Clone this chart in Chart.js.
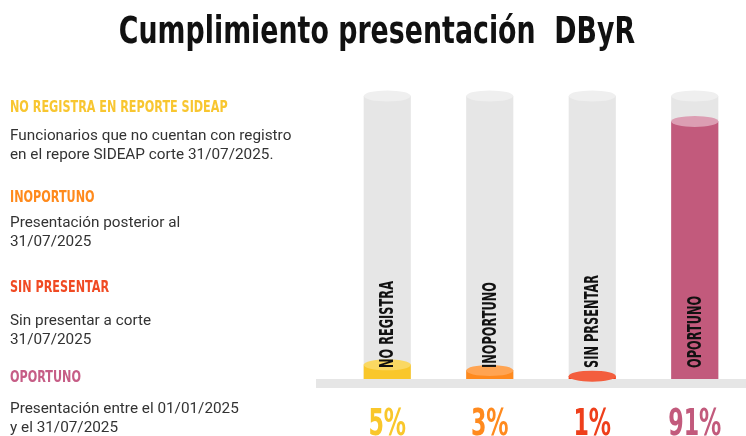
<!DOCTYPE html>
<html><head><meta charset="utf-8">
<script src="https://cdn.jsdelivr.net/npm/chart.js@4.4.1/dist/chart.umd.min.js"></script>
<style>
html,body{margin:0;padding:0;background:#fff;}
#wrap{position:relative;width:746px;height:436px;overflow:hidden;}
#c{position:absolute;left:0;top:0;}
#title{position:absolute;left:0;top:9px;width:754px;text-align:center;font-family:'DejaVu Sans',sans-serif;font-weight:bold;font-size:37px;line-height:44px;color:#111;white-space:pre;transform:scaleX(0.725);transform-origin:377px 0;}
.hd{position:absolute;left:10px;font-family:'DejaVu Sans',sans-serif;font-weight:bold;font-size:16px;line-height:20px;white-space:nowrap;transform:scaleX(0.70);transform-origin:0 0;}
.bd{position:absolute;left:10px;font-family:Roboto,sans-serif;font-size:15.3px;line-height:18.5px;color:#333;white-space:nowrap;}
</style></head>
<body><div id="wrap"><canvas id="c" width="746" height="436"></canvas><div id="title"></div></div>
<script>
const categories = ['NO REGISTRA', 'INOPORTUNO', 'SIN PRSENTAR', 'OPORTUNO'];
const percentages = [5, 3, 1, 91];
const trackValues = [100, 100, 100, 100];
const titleText = 'Cumplimiento presentación  DByR';
const legendTitles = ['NO REGISTRA EN REPORTE SIDEAP', 'INOPORTUNO', 'SIN PRESENTAR', 'OPORTUNO'];
const legendDescriptions = [
  ['Funcionarios que no cuentan con registro', 'en el repore SIDEAP corte 31/07/2025.'],
  ['Presentación posterior al', '31/07/2025'],
  ['Sin presentar a corte', '31/07/2025'],
  ['Presentación entre el 01/01/2025', 'y el 31/07/2025']
];

const FONT = "'DejaVu Sans',sans-serif";
const barColors = ['#F9C72B', '#FF8A1E', '#EE3F1B', '#C25A7C'];
const barTopColors = ['#FAD862', '#FFA452', '#F35E3E', '#DC9EB3'];
const headColors = ['#F8C630', '#FF8A1C', '#F04A23', '#C65D86'];
const trackColor = '#E6E6E6';
const trackTop = '#EFEFEF';

document.getElementById('title').textContent = titleText;

// left legend text
const headTops = [97, 187, 277, 367];
const bodyTops = [126, 213, 311, 399];
const wrap = document.getElementById('wrap');
legendTitles.forEach((t, i) => {
  const h = document.createElement('div');
  h.className = 'hd'; h.style.top = headTops[i] + 'px'; h.style.color = headColors[i];
  h.textContent = t; wrap.appendChild(h);
  const b = document.createElement('div');
  b.className = 'bd'; b.style.top = bodyTops[i] + 'px';
  legendDescriptions[i].forEach((s, k) => {
    if (k) b.appendChild(document.createElement('br'));
    b.appendChild(document.createTextNode(s));
  });
  wrap.appendChild(b);
});

const cylinderPlugin = {
  id: 'cylinder',
  beforeDatasetsDraw(chart) {
    const {ctx, chartArea} = chart;
    ctx.save();
    ctx.fillStyle = trackColor;
    ctx.fillRect(chartArea.left - 20, chartArea.bottom, chartArea.right - chartArea.left + 20, 9);
    ctx.restore();
  },
  afterDatasetDraw(chart, args) {
    const {ctx} = chart;
    const isTrack = args.index === 1;
    ctx.save();
    args.meta.data.forEach((bar, i) => {
      const p = bar.getProps(['x', 'y', 'width'], true);
      ctx.beginPath();
      ctx.ellipse(p.x, p.y, p.width / 2, 5.5, 0, 0, Math.PI * 2);
      ctx.fillStyle = isTrack ? trackTop : barTopColors[i];
      ctx.fill();
    });
    ctx.restore();
  },
  afterDatasetsDraw(chart) {
    const {ctx, chartArea} = chart;
    const xs = chart.scales.x;
    ctx.save();
    // category labels, rotated, inside the cylinders
    ctx.fillStyle = '#111';
    ctx.font = 'bold 19px ' + FONT;
    ctx.textAlign = 'left';
    ctx.textBaseline = 'middle';
    categories.forEach((c, i) => {
      ctx.save();
      ctx.translate(xs.getPixelForValue(i), chartArea.bottom - 11);
      ctx.rotate(-Math.PI / 2);
      ctx.scale(0.6, 1);
      ctx.fillText(c, 0, 1);
      ctx.restore();
    });
    // percentage labels under the floor
    ctx.font = 'bold 37px ' + FONT;
    ctx.textAlign = 'center';
    ctx.textBaseline = 'alphabetic';
    percentages.forEach((v, i) => {
      ctx.save();
      ctx.translate(xs.getPixelForValue(i), 435);
      ctx.scale(0.6, 1);
      ctx.fillStyle = barColors[i];
      ctx.fillText(v + '%', 0, 0);
      ctx.restore();
    });
    ctx.restore();
  }
};

new Chart(document.getElementById('c'), {
  type: 'bar',
  data: {
    labels: categories,
    datasets: [
      {label: 'Cumplimiento', data: percentages, backgroundColor: barColors, order: 1, grouped: false,
       barPercentage: 0.46, categoryPercentage: 1, clip: false, borderWidth: 0},
      {label: 'Total', data: trackValues, backgroundColor: trackColor, order: 2, grouped: false,
       barPercentage: 0.46, categoryPercentage: 1, clip: false, borderWidth: 0}
    ]
  },
  options: {
    responsive: false, animation: false, devicePixelRatio: 1,
    layout: {padding: {left: 6, right: 0, top: 96, bottom: 57}},
    plugins: {legend: {display: false}, tooltip: {enabled: false}, title: {display: false}},
    scales: {
      x: {display: false},
      y: {min: 0, max: 100, ticks: {display: false}, grid: {display: false}, border: {display: false},
        afterFit(s) { s.width = 330; }}
    }
  },
  plugins: [cylinderPlugin]
});
</script></body></html>
